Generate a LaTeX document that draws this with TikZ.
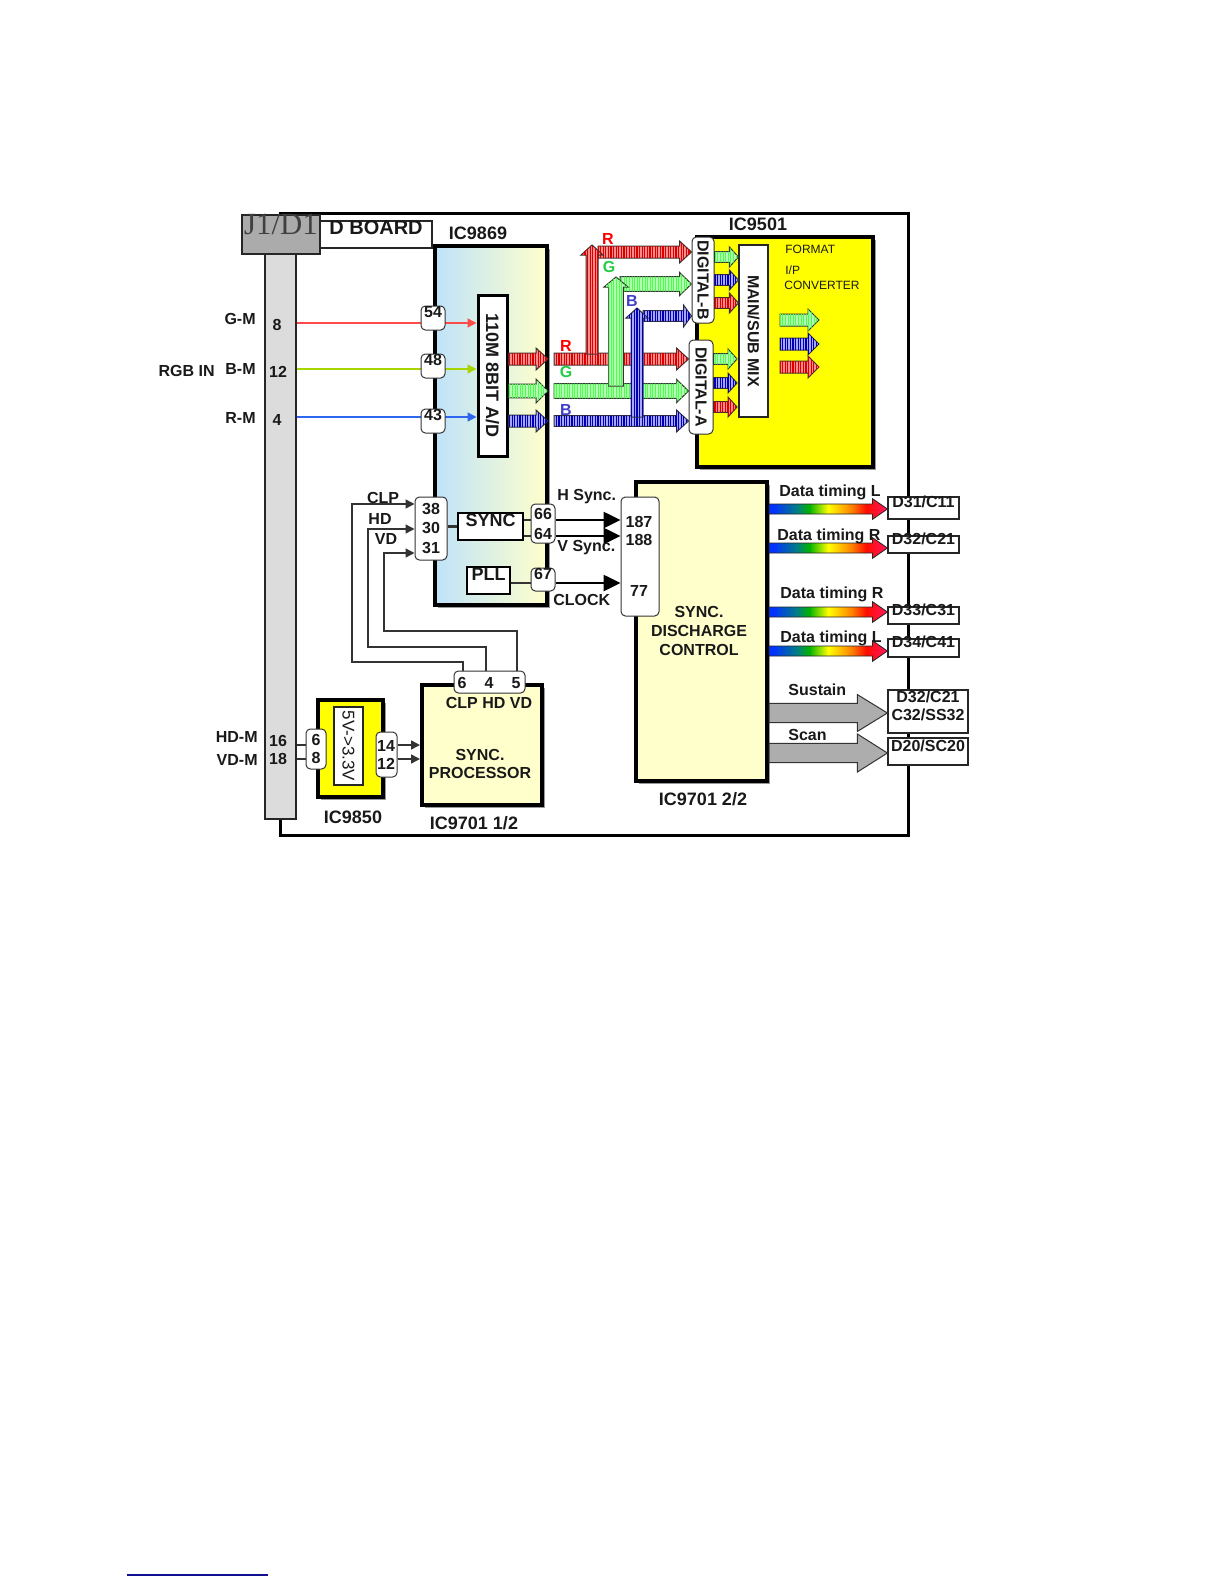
\documentclass[tikz,border=0pt]{standalone}
\usepackage{fontspec}
\setmainfont{Liberation Sans}
\newfontfamily\jackfont{Liberation Serif}
\usepackage{xcolor}
\usepackage{tikz}
\usetikzlibrary{arrows.meta, calc, fit, patterns.meta, shadows}

\definecolor{stripGray}{HTML}{DCDCDC}
\definecolor{jackGray}{HTML}{ABABAB}
\definecolor{paleYellow}{HTML}{FFFFCC}
\definecolor{paleBlue}{HTML}{BFE3F9}
\definecolor{icYellow}{HTML}{FFFF00}
\definecolor{lineRed}{HTML}{FF4A4A}
\definecolor{lineGreen}{HTML}{A8D400}
\definecolor{lineBlue}{HTML}{2F66F0}
\definecolor{labelGreen}{HTML}{22CC44}
\definecolor{labelBlue}{HTML}{4040C8}
\definecolor{fatGray}{HTML}{ADADAD}
\definecolor{linkBlue}{HTML}{101090}

\pgfdeclarehorizontalshading{rainbowbar}{100bp}{
  color(0bp)=(blue!80!cyan); color(27bp)=(blue!80!cyan); color(37bp)=(teal);
  color(42bp)=(green!70!black); color(50bp)=(yellow); color(60bp)=(orange);
  color(66bp)=(red!90!orange); color(75bp)=(red!70!magenta!90!white); color(100bp)=(red!70!magenta)}

\tikzset{
  thinbox/.style={draw=black!85, fill=white, line width=0.6pt},
  icbox/.style={draw=black, line width=2pt, drop shadow={shadow xshift=1.6pt, shadow yshift=-1.6pt, opacity=1, fill=black!40}},
  pinbox/.style={draw=black!80, fill=white, line width=0.5pt, rounded corners=2.2pt},
  wire/.style={draw=black!80, line width=0.75pt},
  wiretip/.style={wire, -{Triangle[length=4.5pt, width=4.5pt]}},
  syncarrow/.style={draw=black, line width=1.3pt, -{Triangle[length=8.5pt, width=8pt]}},
  redbus/.style={draw=black!80, line width=0.5pt, fill=red!45, postaction={pattern={Lines[angle=90, distance=1.3pt, line width=0.55pt]}, pattern color=red!85!black}},
  greenbus/.style={draw=black!80, line width=0.5pt, fill=green!30, postaction={pattern={Lines[angle=90, distance=1.3pt, line width=0.3pt]}, pattern color=green!70!white}},
  bluebus/.style={draw=black!80, line width=0.5pt, fill=blue!35, postaction={pattern={Lines[angle=90, distance=1.3pt, line width=0.55pt]}, pattern color=blue!70!black}},
  rainbowbus/.style={draw=black!85, line width=0.4pt, shade, shading=rainbowbar},
  graybus/.style={draw=black!80, line width=0.5pt, fill=fatGray},
}

% #1 style, #2 start, #3 tip, #4 half shaft, #5 half head, #6 head length
\newcommand{\fatarrow}[6]{
  \coordinate (fatS) at #2;
  \coordinate (fatE) at #3;
  \coordinate (fatH) at ($(fatE)!#6!(fatS)$);
  \path[#1] ($(fatS)!#4!90:(fatE)$) -- ($(fatH)!#4!90:(fatE)$) -- ($(fatH)!#5!90:(fatE)$) -- (fatE)
    -- ($(fatH)!#5!-90:(fatE)$) -- ($(fatH)!#4!-90:(fatE)$) -- ($(fatS)!#4!-90:(fatE)$) -- cycle;
}

\begin{document}
\begin{tikzpicture}[x=0.5pt, y=-0.5pt, every node/.style={font=\bfseries\fontsize{8}{9.3}\selectfont, align=center, inner sep=0pt, text=black!90}]
  \useasboundingbox (0,0) rectangle (1224,1584);

  % Board frame
  \node[draw=black, line width=1.5pt, fit={(280,213) (908,835)}] (board) {};
  \node[draw=black!85, fill=stripGray, line width=0.6pt, fit={(265,254) (296,819)}] (strip) {};
  \node[draw=black!85, fill=jackGray, line width=0.8pt, text=black!75, font=\jackfont\fontsize{15.4}{16}\selectfont, fit={(242,215) (320,254)}] (jack) {J1/D1};
  \node[thinbox, font=\bfseries\fontsize{10}{11}\selectfont, fit={(320,221) (432,248)}] (dboard) {D BOARD};

  % Connector side labels
  \node[anchor=east] (gmLabel) at (256,319) {G-M};
  \node[anchor=east] (bmLabel) at (256,369) {B-M};
  \node[anchor=east] (rmLabel) at (256,418) {R-M};
  \node[anchor=east] (rgbLabel) at (215,371) {RGB IN};
  \node[anchor=east] (hdmLabel) at (258,737) {HD-M};
  \node[anchor=east] (vdmLabel) at (258,760) {VD-M};
  \node (strip8) at (277,325) {8};
  \node (strip12) at (278,372) {12};
  \node (strip4) at (277,420) {4};
  \node (strip16) at (278,741) {16};
  \node (strip18) at (278,759) {18};

  % IC9869
  \node[icbox, left color=paleBlue, right color=paleYellow, fit={(435,246) (547,605)}] (adc) {};
  \node[font=\bfseries\fontsize{9}{10}\selectfont] (adcName) at (478,233) {IC9869};
  \node[draw=black, fill=white, line width=1.5pt, fit={(478,295) (507,456)}] (adconv) {};
  \node[rotate=-90, font=\bfseries\fontsize{9}{10}\selectfont] (adconvText) at (adconv.center) {110M 8BIT A/D};

  % RGB input lines
  \coordinate (rowG) at (0,323);
  \coordinate (rowB) at (0,369);
  \coordinate (rowM) at (0,417);
  \draw[lineRed, line width=0.7pt, -{Triangle[length=4.5pt, width=4.5pt]}] (strip.east |- rowG) -- (adconv.west |- rowG);
  \draw[lineGreen, line width=0.7pt, -{Triangle[length=4.5pt, width=4.5pt]}] (strip.east |- rowB) -- (adconv.west |- rowB);
  \draw[lineBlue, line width=0.7pt, -{Triangle[length=4.5pt, width=4.5pt]}] (strip.east |- rowM) -- (adconv.west |- rowM);
  \node[pinbox, fit={(421,306) (445,330)}] (pin54) {54};
  \node[pinbox, fit={(421,354) (445,378)}] (pin48) {48};
  \node[pinbox, fit={(421,409) (445,433)}] (pin43) {43};

  % IC9501
  \node[icbox, fill=icYellow, fit={(697,237) (873,467)}] (conv) {};
  \node[font=\bfseries\fontsize{9}{10}\selectfont] (convName) at (758,224) {IC9501};
  \node[thinbox, fit={(739,245) (768,417)}] (mix) {};
  \node[rotate=-90] (mixText) at (mix.center) {MAIN/SUB MIX};
  \node[pinbox, fit={(692,237) (714,323)}] (digB) {};
  \node[rotate=-90] (digBText) at (digB.center) {DIGITAL-B};
  \node[pinbox, fit={(689,340) (713,434)}] (digA) {};
  \node[rotate=-90] (digAText) at (digA.center) {DIGITAL-A};
  \node[anchor=west, font=\fontsize{6}{7}\selectfont] (fmtText) at (785,249) {FORMAT};
  \node[anchor=west, font=\fontsize{6}{7}\selectfont] (ipText) at (785,270) {I/P};
  \node[anchor=west, font=\fontsize{6}{7}\selectfont] (cvtText) at (784,285) {CONVERTER};

  % RGB buses
  \coordinate (busR) at (0,359);
  \coordinate (busG) at (0,391);
  \coordinate (busB) at (0,421);
  \coordinate (busStart) at (554,0);
  \fatarrow{redbus}{(adconv.east |- busR)}{(548,359)}{3pt}{5.5pt}{6pt}
  \fatarrow{greenbus}{(adconv.east |- busG)}{(548,391)}{3.4pt}{6pt}{6pt}
  \fatarrow{bluebus}{(adconv.east |- busB)}{(548,421)}{3pt}{5.5pt}{6pt}
  \fatarrow{redbus}{(busStart |- busR)}{(digA.west |- busR)}{3pt}{5.5pt}{6pt}
  \fatarrow{greenbus}{(busStart |- busG)}{(digA.west |- busG)}{3.7pt}{5.8pt}{6pt}
  \fatarrow{bluebus}{(busStart |- busB)}{(digA.west |- busB)}{2.7pt}{5.5pt}{6pt}
  \fatarrow{redbus}{(598,252)}{(digB.west |- 0,252)}{3pt}{5.5pt}{6pt}
  \fatarrow{greenbus}{(620,284)}{(digB.west |- 0,284)}{3.7pt}{5.8pt}{6pt}
  \fatarrow{bluebus}{(643,316)}{(digB.west |- 0,316)}{2.7pt}{5.5pt}{4pt}
  \fatarrow{redbus}{(592,354)}{(592,245)}{3pt}{5.5pt}{5pt}
  \fatarrow{greenbus}{(616,386)}{(616,277)}{3.7pt}{6pt}{5pt}
  \fatarrow{bluebus}{(637,417)}{(637,308)}{3pt}{5.5pt}{5pt}
  \node[text=red] (busRtop) at (608,239) {R};
  \node[text=labelGreen] (busGtop) at (609,267) {G};
  \node[text=labelBlue] (busBtop) at (632,301) {B};
  \node[text=red] (busRlow) at (566,346) {R};
  \node[text=labelGreen] (busGlow) at (566,372) {G};
  \node[text=labelBlue] (busBlow) at (566,410) {B};

  % Arrows into the mixer
  \fatarrow{greenbus}{(digB.east |- 0,257)}{(mix.west |- 0,257)}{2.7pt}{5pt}{4.5pt}
  \fatarrow{bluebus}{(digB.east |- 0,280)}{(mix.west |- 0,280)}{2.7pt}{5pt}{4.5pt}
  \fatarrow{redbus}{(digB.east |- 0,303)}{(mix.west |- 0,303)}{2.7pt}{5pt}{4.5pt}
  \fatarrow{greenbus}{(digA.east |- 0,359)}{(737,359)}{2.7pt}{5pt}{4.5pt}
  \fatarrow{bluebus}{(digA.east |- 0,383)}{(737,383)}{2.7pt}{5pt}{4.5pt}
  \fatarrow{redbus}{(digA.east |- 0,407)}{(737,407)}{2.7pt}{5pt}{4.5pt}
  \fatarrow{greenbus}{(780,320)}{(819,320)}{3pt}{5.5pt}{5.5pt}
  \fatarrow{bluebus}{(780,344)}{(819,344)}{3pt}{5.5pt}{5.5pt}
  \fatarrow{redbus}{(780,367)}{(819,367)}{3pt}{5.5pt}{5.5pt}

  % SYNC. DISCHARGE CONTROL
  \node[icbox, fill=paleYellow, fit={(636,482) (767,781)}] (disch) {};
  \node (dischText) at (699,631) {SYNC.\\DISCHARGE\\CONTROL};
  \node[font=\bfseries\fontsize{9}{10}\selectfont] (dischName) at (703,799) {IC9701 2/2};
  \node[pinbox, fit={(621,497) (659,616)}] (pinsDisch) {};
  \node (n187) at (639,522) {187};
  \node (n188) at (639,540) {188};
  \node (n77) at (639,591) {77};

  % SYNC and PLL
  \node[draw=black, fill=white, line width=1.3pt, font=\bfseries\fontsize{9}{10}\selectfont, fit={(458,513) (523,540)}] (sync) {SYNC};
  \node[draw=black, fill=white, line width=1.3pt, font=\bfseries\fontsize{9}{10}\selectfont, fit={(467,567) (510,594)}] (pll) {PLL};
  \node[pinbox, fit={(415,497) (447,560)}] (pinsIn) {};
  \node (n38) at (431,509) {38};
  \node (n30) at (431,528) {30};
  \node (n31) at (431,548) {31};
  \node[pinbox, fit={(531,504) (555,543)}] (pinsSync) {};
  \node (n66) at (543,514) {66};
  \node (n64) at (543,534) {64};
  \node[pinbox, fit={(531,568) (555,591)}] (pin67) {67};
  \coordinate (rowH) at (0,520);
  \coordinate (rowV) at (0,536);
  \coordinate (rowC) at (0,583);
  \draw[wire, line width=1.1pt] (pinsIn.east |- sync.west) -- (sync.west);
  \draw[wire] (sync.east |- rowH) -- (pinsSync.west |- rowH);
  \draw[wire] (sync.east |- rowV) -- (pinsSync.west |- rowV);
  \draw[wire] (pll.east |- rowC) -- (pin67.west |- rowC);
  \draw[syncarrow] (pinsSync.east |- rowH) -- (pinsDisch.west |- rowH);
  \draw[syncarrow] (pinsSync.east |- rowV) -- (pinsDisch.west |- rowV);
  \draw[syncarrow] (pin67.east |- rowC) -- (pinsDisch.west |- rowC);
  \node[anchor=west] (hsyncText) at (557,497) {H Sync.};
  \node[anchor=west] (vsyncText) at (557,548) {V Sync.};
  \node[anchor=west] (clockText) at (553,600) {CLOCK};

  % IC9701 1/2
  \node[icbox, fill=paleYellow, fit={(422,685) (542,805)}] (proc) {};
  \node (procPins) at (489,703) {CLP HD VD};
  \node (procText) at (480,764) {SYNC.\\PROCESSOR};
  \node[font=\bfseries\fontsize{9}{10}\selectfont] (procName) at (474,823) {IC9701 1/2};
  \node[pinbox, fit={(454,671) (525,693)}] (pinsProc) {};
  \node (n6) at (462,683) {6};
  \node (n4) at (489,683) {4};
  \node (n5) at (516,683) {5};

  % Wires back to the input pins
  \coordinate (clpBend) at (352,662);
  \coordinate (hdBend) at (368,647);
  \coordinate (vdBend) at (384,631);
  \draw[wiretip] (pinsProc.north -| 463,0) |- (clpBend) |- (pinsIn.west |- 0,504);
  \draw[wiretip] (pinsProc.north -| 486,0) |- (hdBend) |- (pinsIn.west |- 0,529);
  \draw[wiretip] (pinsProc.north -| 517,0) |- (vdBend) |- (pinsIn.west |- 0,553);
  \node (clpText) at (383,498) {CLP};
  \node (hdText) at (380,519) {HD};
  \node (vdText) at (386,539) {VD};

  % IC9850
  \node[icbox, fill=icYellow, fit={(318,700) (383,797)}] (reg) {};
  \node[font=\bfseries\fontsize{9}{10}\selectfont] (regName) at (353,817) {IC9850};
  \node[thinbox, fit={(334,707) (363,785)}] (regIn) {};
  \node[rotate=-90, font=\fontsize{8.5}{10}\selectfont] (regText) at (regIn.center) {5V->3.3V};
  \node[pinbox, fit={(306,729) (326,769)}] (pinsRegIn) {};
  \node (n6reg) at (316,740) {6};
  \node (n8reg) at (316,758) {8};
  \node[pinbox, fit={(376,732) (397,777)}] (pinsRegOut) {};
  \node (n14) at (386,746) {14};
  \node (n12) at (386,764) {12};
  \draw[wire] (strip.east |- 0,745) -- (pinsRegIn.west |- 0,745);
  \draw[wire] (strip.east |- 0,759) -- (pinsRegIn.west |- 0,759);
  \draw[wiretip] (pinsRegOut.east |- 0,745) -- (proc.west |- 0,745);
  \draw[wiretip] (pinsRegOut.east |- 0,759) -- (proc.west |- 0,759);

  % Output boxes
  \node[thinbox, fit={(888,497) (959,519)}] (d31) {D31/C11};
  \node[thinbox, fit={(888,536) (959,553)}] (d32) {D32/C21};
  \node[thinbox, fit={(888,607) (959,624)}] (d33) {D33/C31};
  \node[thinbox, fit={(888,639) (959,657)}] (d34) {D34/C41};
  \node[thinbox, fit={(888,690) (968,733)}] (d32c) {D32/C21\\C32/SS32};
  \node[thinbox, fit={(888,738) (968,765)}] (d20) {D20/SC20};

  % Outputs of the discharge control
  \fatarrow{rainbowbus}{(disch.east |- 0,509)}{(d31.west |- 0,509)}{2.5pt}{5.2pt}{7.5pt}
  \fatarrow{rainbowbus}{(disch.east |- 0,548)}{(d32.west |- 0,548)}{2.5pt}{5.2pt}{7.5pt}
  \fatarrow{rainbowbus}{(disch.east |- 0,612)}{(d33.west |- 0,612)}{2.5pt}{5.2pt}{7.5pt}
  \fatarrow{rainbowbus}{(disch.east |- 0,651)}{(d34.west |- 0,651)}{2.5pt}{5.2pt}{7.5pt}
  \fatarrow{graybus}{(disch.east |- 0,713)}{(d32c.west |- 0,713)}{4.8pt}{9.2pt}{15pt}
  \fatarrow{graybus}{(disch.east |- 0,753)}{(d20.west |- 0,753)}{4.8pt}{9.5pt}{15pt}
  \node[anchor=west] (dataL1) at (779,492) {Data timing L};
  \node[anchor=west] (dataR1) at (777,536) {Data timing R};
  \node[anchor=west] (dataR2) at (780,594) {Data timing R};
  \node[anchor=west] (dataL2) at (780,638) {Data timing L};
  \node[anchor=west] (sustainText) at (788,690) {Sustain};
  \node[anchor=west] (scanText) at (788,735) {Scan};

  % Rule at the page foot
  \coordinate (ruleL) at (127,1575);
  \coordinate (ruleR) at (268,1575);
  \draw[linkBlue, line width=0.6pt] (ruleL) -- (ruleR);
\end{tikzpicture}
\end{document}
